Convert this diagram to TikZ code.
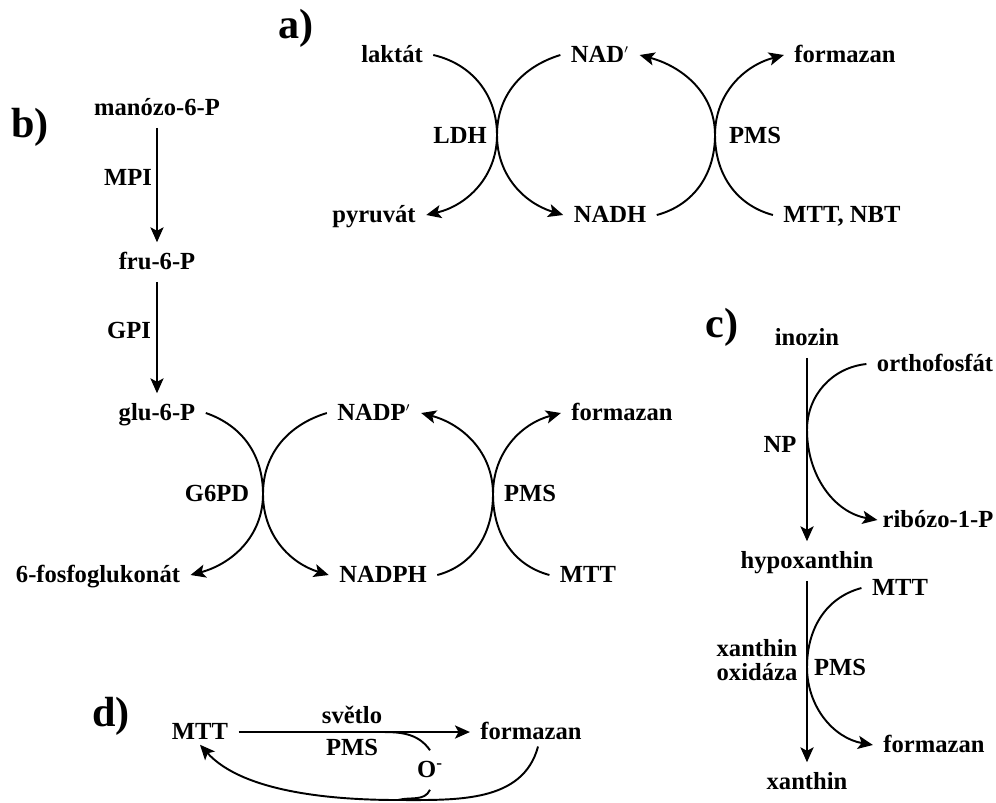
\documentclass[tikz,border=0pt]{standalone}
\usepackage{fontspec}
\setmainfont{Liberation Serif}
\usetikzlibrary{arrows.meta}
\tikzset{
  chem/.style={font=\bfseries\fontsize{14}{16}\selectfont, inner sep=2pt, outer sep=4pt, text height=9.5pt, text depth=1pt},
  twoline/.style={font=\bfseries\fontsize{14}{13.5}\selectfont, inner sep=2pt, align=center},
  panel/.style={font=\bfseries\fontsize{24}{26}\selectfont, inner sep=0pt},
  rxn/.style={line width=1.1pt, -{Stealth[length=8.5pt,width=7.5pt,inset=2pt]}},
  bare/.style={line width=1.1pt},
}

\begin{document}
\begin{tikzpicture}[x=0.02cm, y=-0.02cm]
  \useasboundingbox (0,0) rectangle (996,802);

  % a) laktat / NAD / PMS
  \node[panel] (lbla) at (296,28) {a)};
  \node[chem] (lak) at (392,55) {laktát};
  \node[chem] (nad) at (600,55) {NAD$^{\scriptscriptstyle\prime}$};
  \node[chem] (fma) at (845,55) {formazan};
  \node[chem] (ldh) at (460,136) {LDH};
  \node[chem] (pmsa) at (755,136) {PMS};
  \node[chem] (pyr) at (374,215) {pyruvát};
  \node[chem] (nadh) at (610,215) {NADH};
  \node[chem] (mtta) at (842,215) {MTT, NBT};
  \coordinate (xa1) at (497,135);
  \coordinate (xa2) at (715,135);
  \draw[rxn] (lak.east) to[out=-13,in=90] (xa1) to[out=-90,in=13] (pyr.east);
  \draw[rxn] (nad.west) to[out=197,in=90] (xa1) to[out=-90,in=163] (nadh.west);
  \draw[rxn] (nadh.east) to[out=15,in=-90] (xa2) to[out=90,in=-15] (nad.east);
  \draw[rxn] (mtta.west) to[out=165,in=-90] (xa2) to[out=90,in=195] (fma.west);

  % b) manoza -> glukoza, G6PD / PMS
  \node[panel] (lblb) at (30,127) {b)};
  \node[chem] (man) at (157,108) {manózo-6-P};
  \node[chem] (mpi) at (128,178) {MPI};
  \node[chem] (fru) at (157,262) {fru-6-P};
  \node[chem] (gpi) at (129,331) {GPI};
  \node[chem] (glu) at (157,413) {glu-6-P};
  \node[chem] (g6pd) at (217,494) {G6PD};
  \node[chem] (fog) at (98,575) {6-fosfoglukonát};
  \node[chem] (nadp) at (374,413) {NADP$^{\scriptscriptstyle\prime}$};
  \node[chem] (nadph) at (383,575) {NADPH};
  \node[chem] (pmsb) at (530,494) {PMS};
  \node[chem] (fmb) at (622,413) {formazan};
  \node[chem] (mttb) at (588,575) {MTT};
  \coordinate (xb1) at (263,494);
  \coordinate (xb2) at (493,494);
  \draw[rxn] (man.south) -- (fru.north);
  \draw[rxn] (fru.south) -- (glu.north);
  \draw[rxn] (glu.east) to[out=-19,in=90] (xb1) to[out=-90,in=15] (fog.east);
  \draw[rxn] (nadp.west) to[out=197,in=90] (xb1) to[out=-90,in=163] (nadph.west);
  \draw[rxn] (nadph.east) to[out=15,in=-90] (xb2) to[out=90,in=-15] (nadp.east);
  \draw[rxn] (mttb.west) to[out=165,in=-90] (xb2) to[out=90,in=195] (fmb.west);

  % c) inozin -> hypoxanthin -> xanthin
  \node[panel] (lblc) at (722,327) {c)};
  \node[chem] (ino) at (807,338) {inozin};
  \node[chem] (orth) at (935,364) {orthofosfát};
  \node[chem] (np) at (780,445) {NP};
  \node[chem] (rib) at (938,520) {ribózo-1-P};
  \node[chem] (hyp) at (807,561) {hypoxanthin};
  \node[chem] (mttc) at (900,588) {MTT};
  \node[twoline] (xox) at (757,660) {xanthin\\oxidáza};
  \node[chem] (pmsc) at (840,668) {PMS};
  \node[chem] (fmc) at (934,745) {formazan};
  \node[chem] (xan) at (807,782) {xanthin};
  \coordinate (xc1) at (807,430);
  \coordinate (xc2) at (807,667);
  \draw[rxn] (ino.south) -- (hyp.north);
  \draw[rxn] (hyp.south) -- (xan.north);
  \draw[rxn] (orth.west) to[out=186,in=90] (xc1) to[out=-90,in=170] ([xshift=3pt]rib.west);
  \draw[rxn] (mttc.west) to[out=195,in=90] (xc2) to[out=-90,in=170] (fmc.west);

  % d) MTT -> formazan, svetlo
  \node[panel] (lbld) at (111,716) {d)};
  \node[chem] (mttd) at (200,732) {MTT};
  \node[chem] (fmd) at (531,732) {formazan};
  \node[chem] (svt) at (352,716) {světlo};
  \node[chem] (pmsd) at (352,748) {PMS};
  \node[chem] (od) at (430,770) {O\textsuperscript{-}};
  \coordinate (dl) at (383,732);
  \coordinate (db) at (398,800);
  \draw[rxn] (mttd.east) -- (fmd.west);
  \draw[bare] (dl) to[out=0,in=125] (od.north);
  \draw[bare] (od.south) to[out=-115,in=15] (db);
  \draw[rxn] ([xshift=4pt,yshift=3pt]fmd.south) to[out=-105,in=0] (db) to[out=180,in=-48,looseness=0.8] ([yshift=4pt]mttd.south);
\end{tikzpicture}
\end{document}
